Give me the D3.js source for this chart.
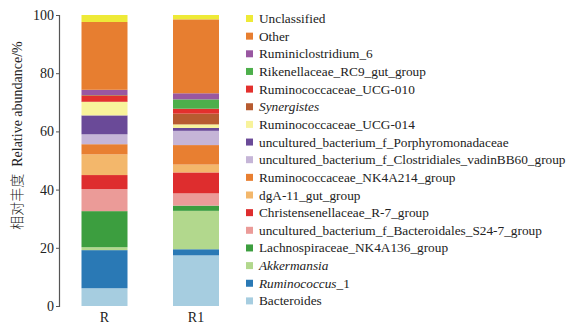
<!DOCTYPE html>
<html>
<head>
<meta charset="utf-8">
<script src="https://cdn.jsdelivr.net/npm/d3@7"></script>
<style>
  html, body { margin: 0; padding: 0; background: #fff; }
  svg { display: block; }
  svg text { font-family: "Liberation Serif", "Times New Roman", "DejaVu Serif", serif; fill: #222; }
</style>
</head>
<body>
<div id="chart"></div>
<script>
// Samples (x categories)
const samples = ["R", "R1"];

// Taxa, stacked from bottom to top
const taxa = [
  "Bacteroides",
  "Ruminococcus_1",
  "Akkermansia",
  "Lachnospiraceae_NK4A136_group",
  "uncultured_bacterium_f_Bacteroidales_S24-7_group",
  "Christensenellaceae_R-7_group",
  "dgA-11_gut_group",
  "Ruminococcaceae_NK4A214_group",
  "uncultured_bacterium_f_Clostridiales_vadinBB60_group",
  "uncultured_bacterium_f_Porphyromonadaceae",
  "Ruminococcaceae_UCG-014",
  "Synergistes",
  "Ruminococcaceae_UCG-010",
  "Rikenellaceae_RC9_gut_group",
  "Ruminiclostridium_6",
  "Other",
  "Unclassified"
];

// Genus names set in italics
const italicTaxa = ["Synergistes", "Akkermansia", "Ruminococcus"];

// Relative abundance (%) per taxon, same order as taxa
const valuesR  = [6.1, 13.1, 1.0, 12.4, 7.6, 4.8, 7.1, 3.5, 3.4, 6.5, 4.6, 0.1, 2.2, 0.1, 1.8, 23.3, 2.4];
const valuesR1 = [17.4, 2.1, 13.2, 1.8, 4.2, 7.2, 2.7, 6.7, 4.9, 1.0, 1.2, 3.7, 1.7, 3.2, 2.1, 25.4, 1.5];

const colors = [
  "#a6cde0", "#2a79b5", "#b2d88d", "#3c9e3f", "#eb9b98", "#de2d2e",
  "#f3b76b", "#e87f31", "#c5b5d7", "#6a4a98", "#f8f39b", "#b75b30",
  "#e3302d", "#4daf4b", "#9957a1", "#e77e30", "#eeea37"
];

const yTicks = [0, 20, 40, 60, 80, 100];

const width = 583, height = 335;
const margin = { top: 15, left: 59, bottom: 29 };
const plotBottom = height - margin.bottom;
const serif = "'Liberation Serif', 'Times New Roman', 'DejaVu Serif', serif";

const svg = d3.select("#chart").append("svg")
  .attr("width", width).attr("height", height);

const y = d3.scaleLinear().domain([0, 100]).range([plotBottom, margin.top]);
// Sample positions along x
const xPos = d3.scalePoint().domain(samples).range([104.5, 196]);
const barW = 46;

const rows = samples.map((s, i) => {
  const vals = i === 0 ? valuesR : valuesR1;
  const o = { sample: s };
  taxa.forEach((t, j) => { o[t] = vals[j]; });
  return o;
});
const stacked = d3.stack().keys(taxa)(rows);

svg.append("g").selectAll("g")
  .data(stacked)
  .join("g")
  .attr("fill", (d, i) => colors[i])
  .selectAll("rect")
  .data(d => d)
  .join("rect")
  .attr("x", d => xPos(d.data.sample) - barW / 2)
  .attr("width", barW)
  .attr("y", d => y(d[1]))
  .attr("height", d => Math.max(0, y(d[0]) - y(d[1])));

// Y axis
const yAxis = svg.append("g")
  .attr("transform", `translate(${margin.left},0)`)
  .call(d3.axisLeft(y).tickValues(yTicks).tickSize(3).tickPadding(2));
yAxis.attr("font-family", serif).attr("font-size", 14);
yAxis.select(".domain").attr("stroke", "#555").attr("stroke-width", 1.2);
yAxis.selectAll(".tick line").attr("stroke", "#555");
yAxis.selectAll("text").attr("fill", "#222");

// Sample labels
svg.append("g").selectAll("text")
  .data(samples)
  .join("text")
  .attr("x", d => xPos(d))
  .attr("y", 322)
  .attr("text-anchor", "middle")
  .attr("font-family", serif)
  .attr("font-size", 14)
  .text(d => d);

// Y axis title
const yTitle = svg.append("text")
  .attr("transform", `translate(22,${(margin.top + plotBottom) / 2 - 25}) rotate(-90)`)
  .attr("text-anchor", "middle")
  .attr("font-family", serif)
  .attr("font-size", 14);
yTitle.append("tspan")
  .style("font-family", "'Noto Sans CJK SC', sans-serif")
  .style("font-weight", "300")
  .text("相对丰度");
yTitle.append("tspan")
  .attr("dx", 7)
  .text("Relative abundance/%");

// Legend, top entry first
const legendOrder = taxa.map((t, i) => i).reverse();
const legend = svg.append("g").selectAll("g")
  .data(legendOrder)
  .join("g")
  .attr("transform", (d, k) => `translate(246,${18.5 + k * 17.65})`);
legend.append("rect")
  .attr("x", 0).attr("y", -3.5)
  .attr("width", 7).attr("height", 7)
  .attr("fill", d => colors[d]);
legend.append("text")
  .attr("x", 13)
  .attr("y", 4.5)
  .attr("font-family", serif)
  .attr("font-size", 13.3)
  .each(function (d) {
    const name = taxa[d];
    const t = d3.select(this);
    const it = italicTaxa.find(g => name === g || name.startsWith(g + "_"));
    if (it) {
      t.append("tspan").style("font-style", "italic").text(it);
      if (name.length > it.length) t.append("tspan").text(name.slice(it.length));
    } else {
      t.text(name);
    }
  });
</script>
</body>
</html>
